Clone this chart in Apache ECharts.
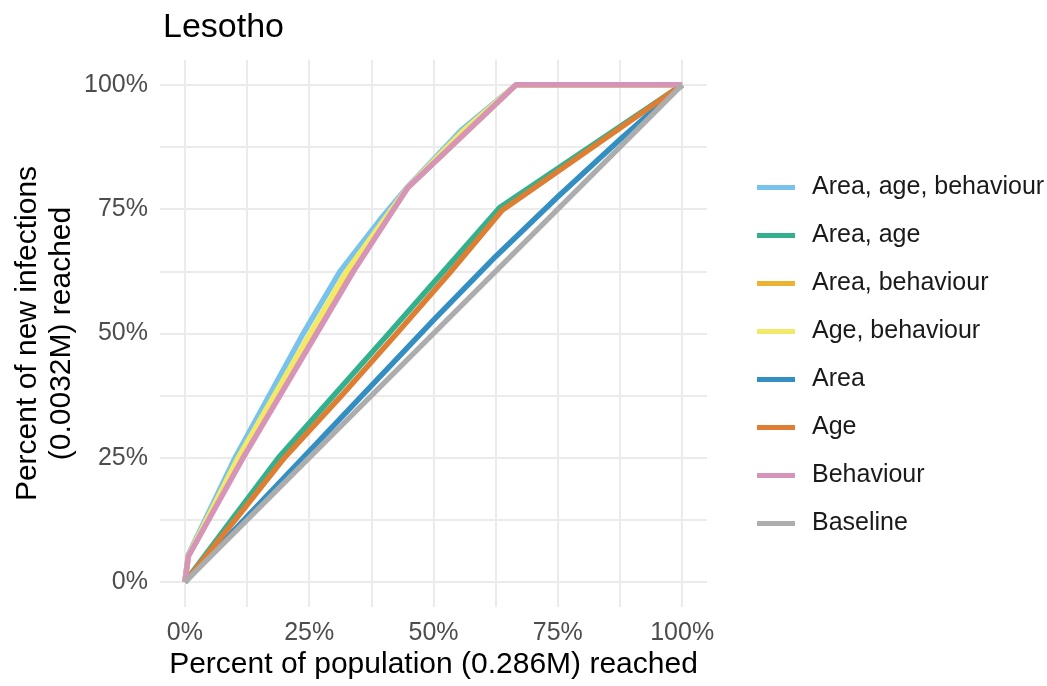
<!DOCTYPE html>
<html>
<head>
<meta charset="utf-8">
<title>Lesotho</title>
<script src="https://cdn.jsdelivr.net/npm/echarts@6/dist/echarts.min.js"></script>
<style>
    html, body { margin: 0; padding: 0; background: #fff; }
    #chart { width: 1047px; height: 686px; }
</style>
</head>
<body>
<div id="chart"></div>
<script>
// series names, in legend order
const seriesNames = ['Area, age, behaviour', 'Area, age', 'Area, behaviour', 'Age, behaviour', 'Area', 'Age', 'Behaviour', 'Baseline'];
// Okabe-Ito palette at 80% alpha on white
const seriesColors = ['#78C3ED', '#33B18F', '#EBB233', '#F3E968', '#338EC1', '#DD7E33', '#D694B9', '#ADADAD'];

// percent of population reached (x) / percent of new infections reached (y)
const areaAgeBehaviourX = [0, 0.7, 10.1, 23.8, 31.2, 39.2, 44.8, 55.5, 66.6, 100];
const areaAgeBehaviourY = [0, 5.5, 25, 50, 62.5, 72.8, 79.5, 90.8, 100, 100];
const areaAgeX = [0, 9.4, 18.8, 41, 63.4, 100];
const areaAgeY = [0, 12.5, 25, 50, 75.4, 100];
const areaBehaviourX = [0, 0.7, 11.5, 26.3, 33.7, 44.8, 66.6, 100];
const areaBehaviourY = [0, 5.2, 25, 50, 62.5, 79.3, 100, 100];
const ageBehaviourX = [0, 0.7, 10.7, 25.2, 32.5, 44.8, 55.7, 66.6, 100];
const ageBehaviourY = [0, 5.3, 25, 50, 62.5, 79.4, 90.5, 100, 100];
const areaX = [0, 25, 50, 62.5, 75, 87.5, 100];
const areaY = [0, 26.3, 52.7, 65.5, 77.5, 89, 100];
const ageX = [0, 10.1, 20, 31.5, 42.6, 53.5, 63.8, 100];
const ageY = [0, 12.5, 25, 37.5, 50, 62.5, 74.8, 100];
const behaviourX = [0, 0.7, 11.7, 26.5, 33.9, 44.8, 66.6, 100];
const behaviourY = [0, 5.2, 25, 50, 62.5, 79.3, 100, 100];
const baselineX = [0, 100];
const baselineY = [0, 100];

const xValues = [areaAgeBehaviourX, areaAgeX, areaBehaviourX, ageBehaviourX, areaX, ageX, behaviourX, baselineX];
const yValues = [areaAgeBehaviourY, areaAgeY, areaBehaviourY, ageBehaviourY, areaY, ageY, behaviourY, baselineY];

// axis ticks
const tickLabels = [0, 25, 50, 75, 100];
const gridValues = [0, 12.5, 25, 37.5, 50, 62.5, 75, 87.5, 100];

const pairs = (xs, ys) => xs.map((x, i) => [x, ys[i]]);

const chart = echarts.init(document.getElementById('chart'));

const series = seriesNames.map((name, i) => ({
    name: name,
    type: 'line',
    data: pairs(xValues[i], yValues[i]),
    showSymbol: false,
    color: seriesColors[i],
    z: 2 + i,
    lineStyle: { width: 5.5, color: seriesColors[i], join: 'round', cap: 'butt' },
    itemStyle: { color: seriesColors[i] },
    emphasis: { disabled: true }
}));

// shared look of both axes
function axisBase(name) {
    return {
        type: 'value',
        min: -5,
        max: 105,
        name: name,
        nameLocation: 'middle',
        nameMoveOverlap: false,
        nameTextStyle: { fontFamily: 'Liberation Sans', fontSize: 30, color: '#000', lineHeight: 34 },
        axisLine: { show: false },
        axisTick: { show: false, customValues: gridValues },
        splitLine: { show: true, lineStyle: { color: '#EBEBEB', width: 2 } },
        axisLabel: {
            customValues: tickLabels,
            formatter: v => v + '%',
            fontFamily: 'Liberation Sans',
            fontSize: 25,
            color: '#4D4D4D'
        }
    };
}

const xAxis = axisBase('Percent of population (0.286M) reached');
xAxis.nameGap = 43;
xAxis.nameTextStyle.lineHeight = 30;
xAxis.axisLabel.margin = 14;

const yAxis = axisBase('Percent of new infections\n(0.0032M) reached');
yAxis.nameRotate = 90;
yAxis.nameGap = 81;
yAxis.axisLabel.margin = 12;

const option = {
    backgroundColor: '#ffffff',
    animation: false,
    title: {
        text: 'Lesotho',
        left: 158,
        top: 6,
        textStyle: { fontFamily: 'Liberation Sans', fontSize: 34, fontWeight: 'normal', color: '#000' }
    },
    legend: {
        orient: 'vertical',
        left: 752,
        top: 170,
        icon: 'rect',
        itemWidth: 38,
        itemHeight: 5,
        itemGap: 23,
        data: seriesNames,
        textStyle: { fontFamily: 'Liberation Sans', fontSize: 25, color: '#1a1a1a', lineHeight: 25, padding: [0, 0, 0, 12] }
    },
    grid: { left: 160, top: 60, right: 340, bottom: 79, containLabel: false, outerBoundsMode: 'none' },
    xAxis: xAxis,
    yAxis: yAxis,
    series: series
};

chart.setOption(option);
</script>
</body>
</html>
